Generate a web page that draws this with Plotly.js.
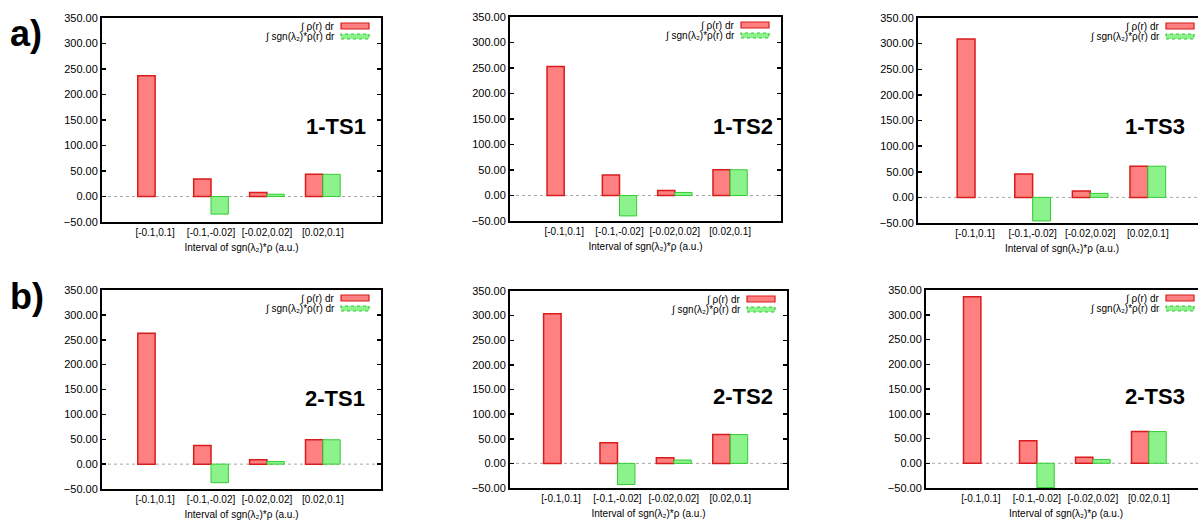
<!DOCTYPE html>
<html>
<head>
<meta charset="utf-8">
<script src="https://cdn.plot.ly/plotly-3.0.1.min.js"></script>
<style>
html,body{margin:0;padding:0;overflow:hidden;background:#fff;}
#chart{width:1215px;height:520px;}
</style>
</head>
<body>
<div id="chart"></div>
<script>
// ---------------- data ----------------
const categories = ['[-0.1,0.1]', '[-0.1,-0.02]', '[-0.02,0.02]', '[0.02,0.1]'];
const panelNames = ['1-TS1', '1-TS2', '1-TS3', '2-TS1', '2-TS2', '2-TS3'];
const seriesNames = ['\u222B \u03C1(r) dr', '\u222B sgn(\u03BB\u2082)*\u03C1(r) dr'];
const xTitle = 'Interval of sgn(\u03BB\u2082)*\u03C1 (a.u.)';
const yTickVals = [-50, 0, 50, 100, 150, 200, 250, 300, 350];

const rho_1TS1 = [237, 34.5, 8, 43.5];
const sgn_1TS1 = [null, -34.5, 4.5, 43.5];
const rho_1TS2 = [253, 40, 10, 50.5];
const sgn_1TS2 = [null, -40, 6, 50.5];
const rho_1TS3 = [309, 45.5, 12.4, 60.8];
const sgn_1TS3 = [null, -46, 7.8, 60.8];
const rho_2TS1 = [263, 37.4, 8.8, 49];
const sgn_2TS1 = [null, -37.4, 5.4, 49];
const rho_2TS2 = [304, 42, 11.6, 58.5];
const sgn_2TS2 = [null, -43, 6.8, 58.5];
const rho_2TS3 = [336.5, 45.6, 12, 64];
const sgn_2TS3 = [null, -49, 7.4, 64];

const rhoSeries = [rho_1TS1, rho_1TS2, rho_1TS3, rho_2TS1, rho_2TS2, rho_2TS3];
const sgnSeries = [sgn_1TS1, sgn_1TS2, sgn_1TS3, sgn_2TS1, sgn_2TS2, sgn_2TS3];

// ---------------- layout helpers ----------------
const W = 1215, H = 520;
// plot frames in px: [left, right, top, bottom]
const frames = [
  [102, 381, 18, 222], [510, 781, 17, 221], [918, 1206, 18, 223],
  [102, 381, 290, 489], [510, 787, 291, 488], [926, 1206, 290, 488]
];
const xRanges = [[-0.95, 4.04], [-0.98, 3.92], [-0.99, 4.01], [-0.95, 4.04], [-0.906, 4.007], [-0.98, 4.02]];
const labelPos = [[0.953, 0.466], [0.978, 0.462], [0.933, 0.473], [0.949, 0.456], [0.958, 0.464], [0.931, 0.464]];

const FONT = 'Liberation Sans, Arial, Helvetica, DejaVu Sans, sans-serif';
const RED_FILL = '#ff8080', RED_LINE = '#d81c1c';
const GREEN_FILL = '#8cf28c', GREEN_LINE = '#33cc33';

const px = v => v / W;
const py = v => 1 - v / H;

const data = [];
const layout = {
  width: W, height: H, autosize: false,
  margin: {l: 0, r: 0, t: 0, b: 0},
  paper_bgcolor: '#fff', plot_bgcolor: '#fff',
  barmode: 'group', bargap: 0.38, bargroupgap: 0,
  showlegend: false,
  font: {family: FONT, color: '#000', size: 10},
  shapes: [], annotations: []
};

frames.forEach((f, i) => {
  const n = i === 0 ? '' : String(i + 1);
  const xa = 'x' + n, ya = 'y' + n;
  data.push({
    type: 'bar', x: categories, y: rhoSeries[i], name: seriesNames[0],
    xaxis: xa, yaxis: ya,
    marker: {color: RED_FILL, line: {color: RED_LINE, width: 1.5}},
    hoverinfo: 'x+y'
  });
  data.push({
    type: 'bar', x: categories, y: sgnSeries[i], name: seriesNames[1],
    xaxis: xa, yaxis: ya,
    marker: {color: GREEN_FILL, line: {color: GREEN_LINE, width: 1}},
    hoverinfo: 'x+y'
  });
  layout['xaxis' + n] = {
    domain: [px(f[0]), px(f[1])], anchor: ya,
    type: 'category', categoryorder: 'array', categoryarray: categories,
    range: xRanges[i],
    showline: true, mirror: true, linewidth: 2, linecolor: '#000',
    showgrid: false, zeroline: false, ticks: '',
    tickfont: {size: 10, family: FONT, color: '#000'},
    title: {text: xTitle, font: {size: 10, family: FONT, color: '#000'}, standoff: 7}
  };
  layout['yaxis' + n] = {
    domain: [py(f[3]), py(f[2])], anchor: xa,
    range: [-50, 350], tickvals: yTickVals, tickformat: '.2f',
    showline: true, mirror: 'ticks', linewidth: 2, linecolor: '#000',
    ticks: 'inside', ticklen: 4, tickwidth: 1.5, tickcolor: '#000',
    showgrid: false, zeroline: false,
    tickfont: {size: 11, family: FONT, color: '#000'}
  };
  // dotted zero reference line
  layout.shapes.push({
    type: 'line', xref: xa + ' domain', yref: ya, x0: 0, x1: 1, y0: 0, y1: 0,
    line: {color: '#a8a8a8', width: 1, dash: 'dot'}, layer: 'below'
  });
  // panel label
  layout.annotations.push({
    text: '<b>' + panelNames[i] + '</b>', xref: xa + ' domain', yref: ya + ' domain',
    x: labelPos[i][0], y: labelPos[i][1], xanchor: 'right', yanchor: 'middle',
    showarrow: false, font: {size: 22, family: FONT, color: '#000'}
  });
  // legend (text right-aligned, swatch on the right)
  const swR = f[1] - 12, swL = swR - 28;
  const legRows = [
    {top: f[2] + 5, bot: f[2] + 11, fill: RED_FILL, line: RED_LINE, dash: 'solid', name: seriesNames[0]},
    {top: f[2] + 16, bot: f[2] + 21, fill: GREEN_FILL, line: GREEN_LINE, dash: 'dot', name: seriesNames[1]}
  ];
  legRows.forEach(r => {
    layout.shapes.push({
      type: 'rect', xref: 'paper', yref: 'paper',
      x0: px(swL), x1: px(swR), y0: py(r.bot), y1: py(r.top),
      fillcolor: r.fill, line: {color: r.line, width: 1.2, dash: r.dash}
    });
    layout.annotations.push({
      text: r.name, xref: 'paper', yref: 'paper',
      x: px(swL - 4), y: py((r.top + r.bot) / 2), xanchor: 'right', yanchor: 'middle',
      showarrow: false, font: {size: 10, family: FONT, color: '#000'}
    });
  });
});

// row labels
layout.annotations.push({
  text: '<b>a)</b>', xref: 'paper', yref: 'paper', x: px(8), y: py(33),
  xanchor: 'left', yanchor: 'middle', showarrow: false, font: {size: 36, family: FONT, color: '#000'}
});
layout.annotations.push({
  text: '<b>b)</b>', xref: 'paper', yref: 'paper', x: px(8), y: py(296),
  xanchor: 'left', yanchor: 'middle', showarrow: false, font: {size: 36, family: FONT, color: '#000'}
});

Plotly.newPlot('chart', data, layout, {displayModeBar: false, staticPlot: true});
</script>
</body>
</html>
